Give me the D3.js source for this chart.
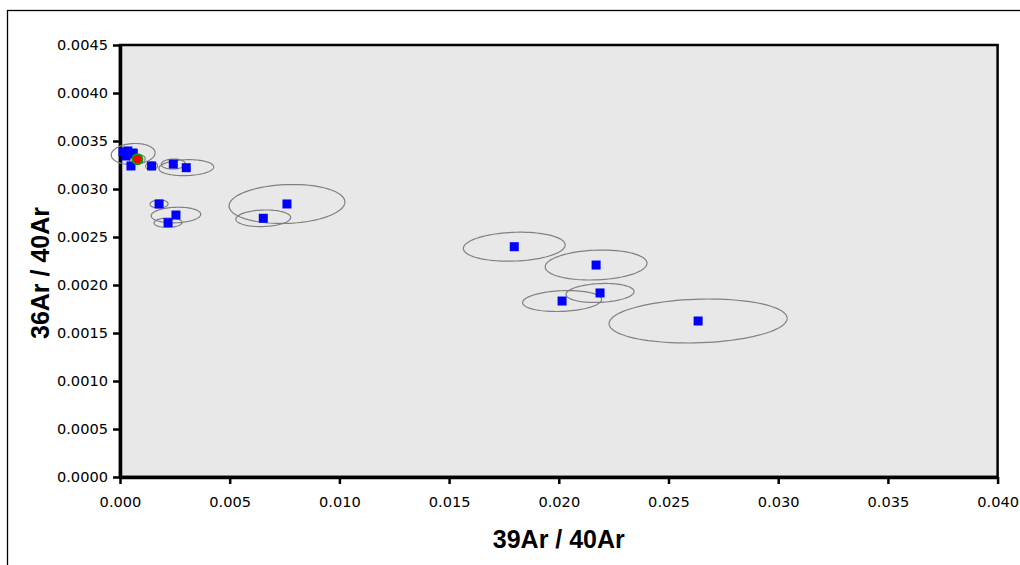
<!DOCTYPE html>
<html>
<head>
<meta charset="utf-8">
<script src="https://cdn.jsdelivr.net/npm/d3@7/dist/d3.min.js"></script>
<style>
  body { margin: 0; background: #ffffff; }
  svg { display: block; }
</style>
</head>
<body>
<svg id="chart" width="1020" height="565"></svg>
<script>
// Step ratios: 39Ar/40Ar, 36Ar/40Ar with 1-sigma errors and error correlation
const ratio39 = [0.02635, 0.02188, 0.02015, 0.02170, 0.01797, 0.00761, 0.00653,
                 0.00178, 0.00255, 0.00219, 0.00243, 0.00302, 0.00144,
                 0.00014, 0.00036, 0.00059, 0.00027, 0.00060, 0.00050];
const ratio36 = [0.001625, 0.001917, 0.001833, 0.002208, 0.002399, 0.002844, 0.002695,
                 0.002844, 0.002729, 0.002649, 0.003260, 0.003222, 0.003240,
                 0.003386, 0.003396, 0.003375, 0.003344, 0.003365, 0.003240];
const err39   = [0.00406, 0.00155, 0.00180, 0.00232, 0.00232, 0.00264, 0.00125,
                 0.00041, 0.00113, 0.00064, 0.00055, 0.00125, 0.00027,
                 0.00010, 0.00010, 0.00010, 0.00010, 0.00100, 0.00010];
const err36   = [0.000229, 0.000099, 0.000109, 0.000156, 0.000151, 0.000203, 0.0000865,
                 0.0000417, 0.0000813, 0.000049, 0.000052, 0.0000833, 0.000042,
                 0.00002, 0.00002, 0.00002, 0.00002, 0.000109, 0.00002];
const errRho  = [0.12, 0.15, 0.15, 0.12, 0.12, 0.10, 0.10,
                 0.05, 0.10, 0.05, 0.05, 0.10, 0.05,
                 0.0, 0.0, 0.0, 0.0, 0.10, 0.0];

// Reference point (trapped argon) with its own error ellipse
const refPoint = { x: 0.00079, y: 0.003309, sx: 0.00036, sy: 0.00005, rho: 0.1 };

const xTicks = [0, 0.005, 0.010, 0.015, 0.020, 0.025, 0.030, 0.035, 0.040];
const yTicks = [0, 0.0005, 0.0010, 0.0015, 0.0020, 0.0025, 0.0030, 0.0035, 0.0040, 0.0045];
const xTitle = "39Ar / 40Ar";
const yTitle = "36Ar / 40Ar";

const svg = d3.select("#chart");
const plot = { left: 120, top: 45, right: 997.6, bottom: 477 };

const x = d3.scaleLinear().domain([0, 0.040]).range([plot.left, plot.right]);
const y = d3.scaleLinear().domain([0, 0.0045]).range([plot.bottom, plot.top]);

// Outer chart frame (only left/top edges fall inside the page)
svg.append("rect")
  .attr("x", 7.5).attr("y", 10.5)
  .attr("width", 1040).attr("height", 600)
  .attr("fill", "none").attr("stroke", "#000").attr("stroke-width", 1.3);

// Plot area
svg.append("rect")
  .attr("x", plot.left).attr("y", plot.top)
  .attr("width", plot.right - plot.left).attr("height", plot.bottom - plot.top)
  .attr("fill", "#e8e8e8").attr("stroke", "#000").attr("stroke-width", 2.5);

// Axes
const fontTicks = "'DejaVu Sans', Verdana, sans-serif";
const yAxis = svg.append("g")
  .attr("transform", `translate(${plot.left},0)`)
  .call(d3.axisLeft(y).tickValues(yTicks).tickSize(7).tickSizeOuter(0).tickPadding(5)
        .tickFormat(d3.format(".4f")));
const xAxis = svg.append("g")
  .attr("transform", `translate(0,${plot.bottom})`)
  .call(d3.axisBottom(x).tickValues(xTicks).tickSize(7).tickSizeOuter(0).tickPadding(13)
        .tickFormat(d3.format(".3f")));

[yAxis, xAxis].forEach(g => {
  g.select(".domain").attr("stroke", "#000").attr("stroke-width", 3.5);
  g.selectAll(".tick line").attr("stroke", "#000").attr("stroke-width", 2.5);
  g.selectAll(".tick text").attr("fill", "#000")
    .style("font-family", fontTicks).style("font-size", "14.6px");
});

// Error ellipses
function ellipsePath(cx, cy, sx, sy, rho) {
  const n = 90, pts = [];
  const k = Math.sqrt(1 - rho * rho);
  for (let i = 0; i <= n; i++) {
    const t = (i / n) * 2 * Math.PI;
    pts.push([x(cx + sx * Math.cos(t)), y(cy + sy * (rho * Math.cos(t) + k * Math.sin(t)))]);
  }
  return d3.line()(pts);
}

const steps = ratio39.map((v, i) => ({
  x: v, y: ratio36[i], sx: err39[i], sy: err36[i], rho: errRho[i]
}));

svg.append("g").selectAll("path")
  .data(steps.concat([refPoint]))
  .join("path")
  .attr("d", d => ellipsePath(d.x, d.y, d.sx, d.sy, d.rho))
  .attr("fill", "none").attr("stroke", "#808080").attr("stroke-width", 1.2);

// Step markers
const sq = 9;
svg.append("g").selectAll("rect")
  .data(steps)
  .join("rect")
  .attr("x", d => x(d.x) - sq / 2).attr("y", d => y(d.y) - sq / 2)
  .attr("width", sq).attr("height", sq)
  .attr("fill", "#0000ff");

// Reference marker
svg.append("circle")
  .attr("cx", x(refPoint.x)).attr("cy", y(refPoint.y)).attr("r", 5)
  .attr("fill", "#ff0000").attr("stroke", "#00a000").attr("stroke-width", 2);

// Axis titles
const fontTitle = "'Liberation Sans', Arial, sans-serif";
svg.append("text")
  .attr("x", (plot.left + plot.right) / 2).attr("y", 548)
  .attr("text-anchor", "middle")
  .style("font-family", fontTitle).style("font-size", "25px").style("font-weight", "bold")
  .text(xTitle);
svg.append("text")
  .attr("transform", `translate(49,${(plot.top + plot.bottom) / 2 + 12}) rotate(-90)`)
  .attr("text-anchor", "middle")
  .style("font-family", fontTitle).style("font-size", "25px").style("font-weight", "bold")
  .text(yTitle);
</script>
</body>
</html>
